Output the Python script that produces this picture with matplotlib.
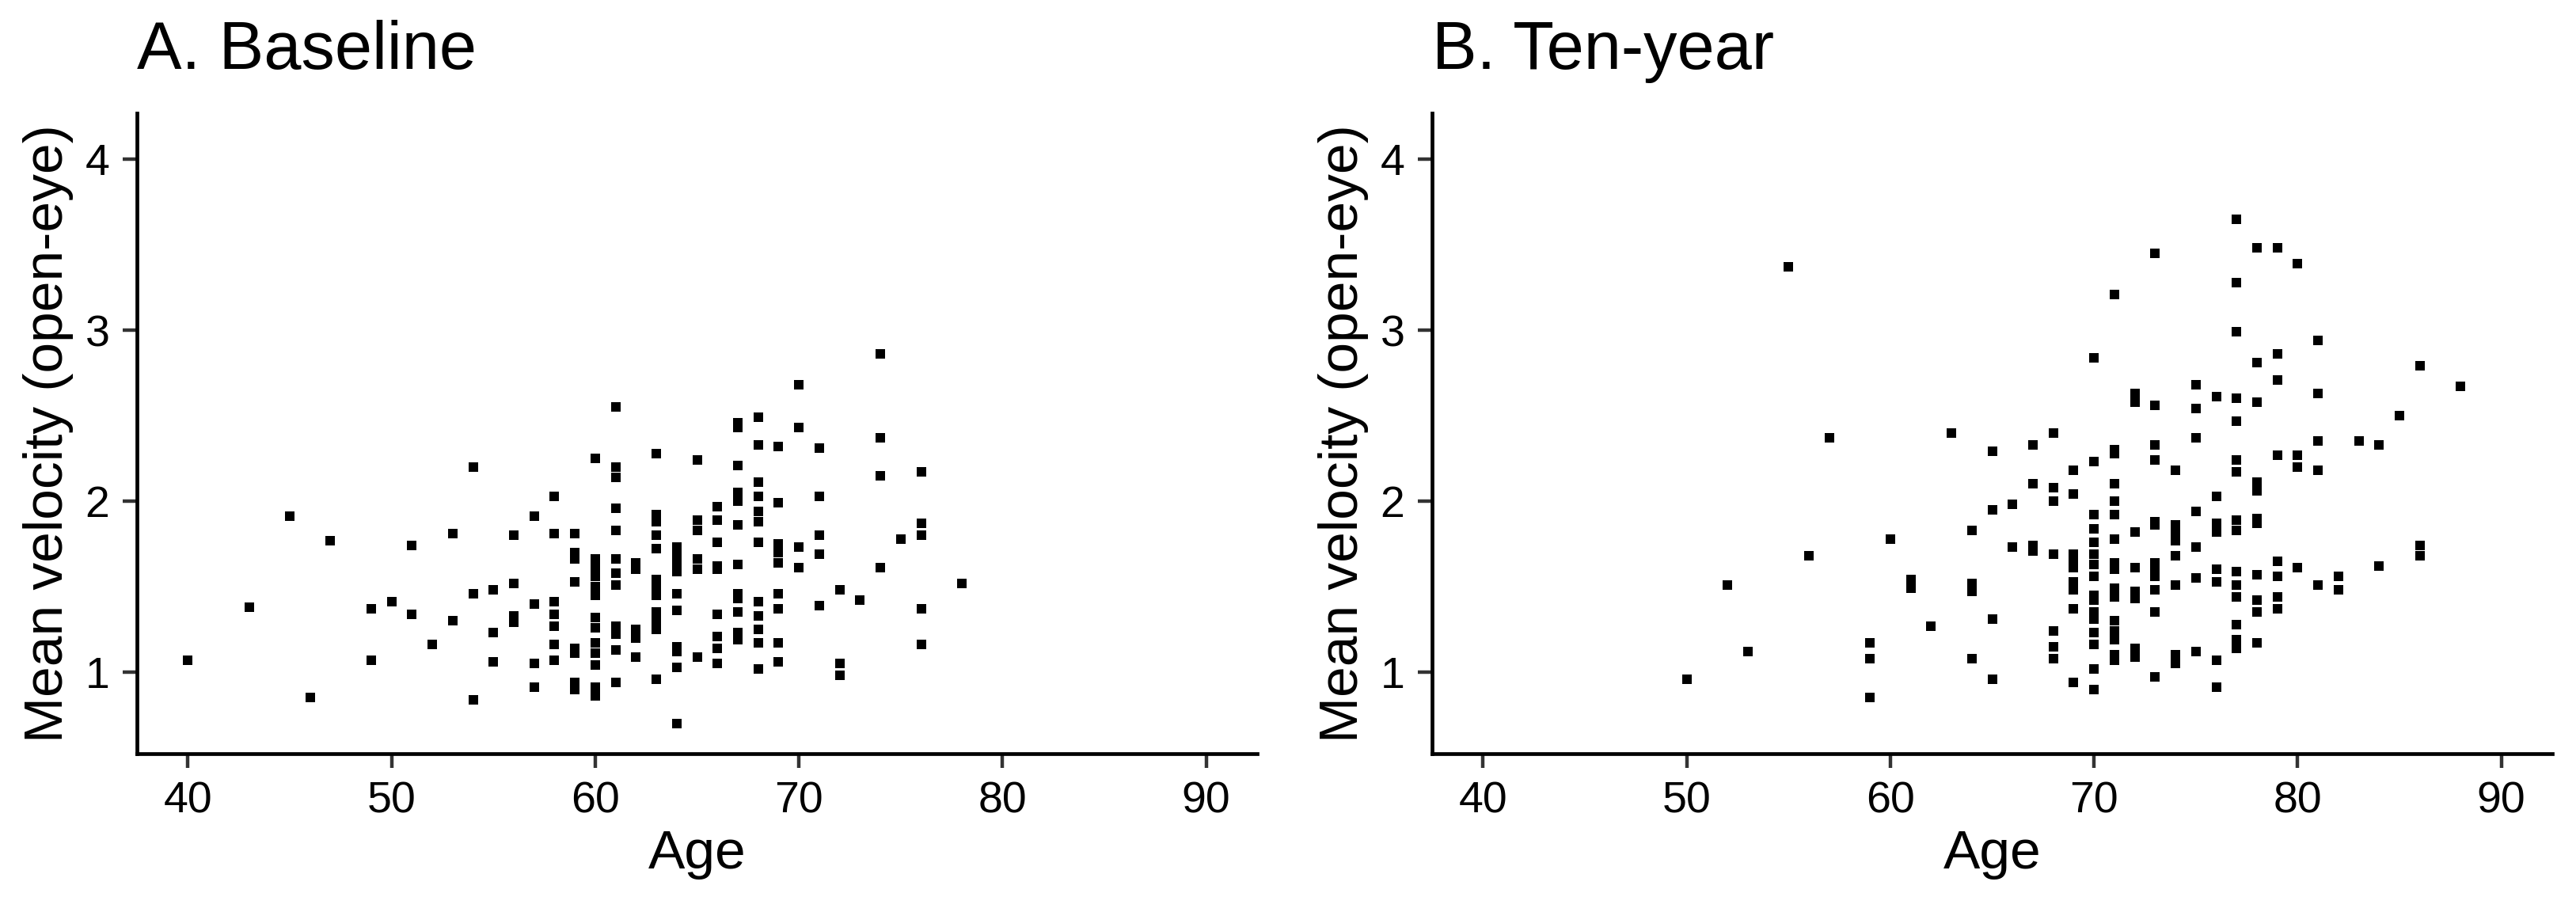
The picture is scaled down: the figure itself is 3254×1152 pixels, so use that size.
import matplotlib
matplotlib.use("Agg")
import matplotlib.pyplot as plt

plt.rcParams['font.family'] = ['Liberation Sans', 'DejaVu Sans']

# ---- data (age -> mean velocity values at that age) ----
baseline_ages = [40, 43, 45, 46, 47, 49, 50, 51, 52, 53, 54, 55, 56, 57, 58, 59, 60,
                 61, 62, 63, 64, 65, 66, 67, 68, 69, 70, 71, 72, 73, 74, 75, 76, 78]
baseline_values = [
    [1.07], [1.38], [1.91], [0.85], [1.77], [1.37, 1.07], [1.41], [1.74, 1.34],
    [1.16], [1.81, 1.30], [2.20, 1.46, 0.84], [1.48, 1.23, 1.06],
    [1.80, 1.52, 1.33, 1.29], [1.91, 1.40, 1.05, 0.91],
    [2.03, 1.81, 1.41, 1.34, 1.27, 1.16, 1.07],
    [1.81, 1.70, 1.66, 1.53, 1.14, 1.11, 0.94, 0.90],
    [2.25, 1.66, 1.61, 1.56, 1.50, 1.45, 1.32, 1.26, 1.17, 1.11, 1.04, 0.91, 0.86],
    [2.55, 2.20, 2.14, 1.96, 1.83, 1.66, 1.58, 1.51, 1.27, 1.22, 1.13, 0.94],
    [1.64, 1.60, 1.25, 1.20, 1.09],
    [2.28, 1.92, 1.88, 1.80, 1.72, 1.54, 1.49, 1.45, 1.35, 1.30, 1.25, 0.96],
    [1.73, 1.68, 1.64, 1.59, 1.46, 1.36, 1.15, 1.12, 1.03, 0.70],
    [2.24, 1.89, 1.83, 1.66, 1.60, 1.09],
    [1.97, 1.89, 1.76, 1.62, 1.60, 1.34, 1.21, 1.14, 1.05],
    [2.46, 2.43, 2.21, 2.05, 2.00, 1.86, 1.63, 1.46, 1.43, 1.35, 1.23, 1.19],
    [2.49, 2.33, 2.11, 2.03, 1.94, 1.88, 1.76, 1.41, 1.33, 1.25, 1.17, 1.02],
    [2.32, 1.99, 1.75, 1.70, 1.64, 1.46, 1.37, 1.17, 1.06],
    [2.68, 2.43, 1.73, 1.61],
    [2.31, 2.03, 1.80, 1.69, 1.39],
    [1.48, 1.05, 0.98],
    [1.42],
    [2.86, 2.37, 2.15, 1.61],
    [1.78],
    [2.17, 1.87, 1.80, 1.37, 1.16],
    [1.52],
]

tenyear_ages = [50, 52, 53, 55, 56, 57, 59, 60, 61, 62, 63, 64, 65, 66, 67, 68, 69, 70,
                71, 72, 73, 74, 75, 76, 77, 78, 79, 80, 81, 82, 83, 84, 85, 86, 88]
tenyear_values = [
    [0.96], [1.51], [1.12], [3.37], [1.68], [2.37], [1.17, 1.08, 0.85], [1.78],
    [1.54, 1.49], [1.27], [2.40], [1.83, 1.52, 1.47, 1.08],
    [2.29, 1.95, 1.31, 0.96], [1.98, 1.73], [2.33, 2.10, 1.74, 1.71],
    [2.40, 2.08, 2.00, 1.69, 1.24, 1.15, 1.08],
    [2.18, 2.04, 1.69, 1.65, 1.61, 1.53, 1.48, 1.37, 0.94],
    [2.84, 2.23, 1.92, 1.84, 1.76, 1.69, 1.63, 1.56, 1.45, 1.42, 1.35, 1.31, 1.23, 1.16, 1.02, 0.90],
    [3.21, 2.30, 2.28, 2.10, 2.00, 1.92, 1.78, 1.64, 1.60, 1.49, 1.44, 1.30, 1.24, 1.19, 1.10, 1.07],
    [2.63, 2.58, 1.82, 1.61, 1.47, 1.43, 1.14, 1.09],
    [3.45, 2.56, 2.33, 2.24, 1.88, 1.86, 1.64, 1.60, 1.56, 1.48, 1.35, 0.97],
    [2.18, 1.86, 1.82, 1.77, 1.68, 1.51, 1.10, 1.05],
    [2.68, 2.54, 2.37, 1.94, 1.73, 1.55, 1.12],
    [2.61, 2.03, 1.87, 1.82, 1.60, 1.53, 1.07, 0.91],
    [3.65, 3.28, 2.99, 2.60, 2.47, 2.24, 2.17, 1.89, 1.83, 1.59, 1.51, 1.44, 1.28, 1.19, 1.14],
    [3.48, 2.81, 2.58, 2.11, 2.06, 1.90, 1.87, 1.57, 1.42, 1.35, 1.17],
    [3.48, 2.86, 2.71, 2.27, 1.65, 1.56, 1.44, 1.37],
    [3.39, 2.27, 2.20, 1.61],
    [2.94, 2.63, 2.35, 2.18, 1.51],
    [1.56, 1.48],
    [2.35],
    [2.33, 1.62],
    [2.50],
    [2.79, 1.74, 1.68],
    [2.67],
]

panel_titles = ["A. Baseline", "B. Ten-year"]
x_label = "Age"
y_label = "Mean velocity (open-eye)"
x_ticks = [40, 50, 60, 70, 80, 90]
y_ticks = [1, 2, 3, 4]


def expand(ages, values):
    xs, ys = [], []
    for a, vals in zip(ages, values):
        for v in vals:
            xs.append(a)
            ys.append(v)
    return xs, ys


W, H = 3255, 1152
fig = plt.figure(figsize=(W / 100, H / 100), dpi=100)

ax_left_px = [173, 1809]
ax_w_px = 1415
ax_top_px, ax_bot_px = 143, 952

datasets = [(baseline_ages, baseline_values), (tenyear_ages, tenyear_values)]

for i, (ages, values) in enumerate(datasets):
    ax = fig.add_axes([ax_left_px[i] / W, 1 - ax_bot_px / H, ax_w_px / W,
                       (ax_bot_px - ax_top_px) / H])
    xs, ys = expand(ages, values)
    ax.plot(xs, ys, linestyle='none', marker='s', markersize=9.0,
            markerfacecolor='black', markeredgewidth=0, color='black')
    ax.set_xlim(37.5, 92.5)
    ax.set_ylim(0.523, 4.269)
    ax.set_xticks(x_ticks)
    ax.set_yticks(y_ticks)
    for side in ['top', 'right']:
        ax.spines[side].set_visible(False)
    for side in ['left', 'bottom']:
        ax.spines[side].set_linewidth(3.4)
        ax.spines[side].set_color('black')
        ax.spines[side].set_capstyle('projecting')
    ax.tick_params(axis='both', which='major', length=13, width=3.2,
                   color='#333333', labelsize=40, labelcolor='black', pad=12)
    ax.set_xlabel(x_label, fontsize=50, color='black')
    ax.set_ylabel(y_label, fontsize=50, color='black')
    ax.xaxis.set_label_coords(0.5, -0.118)
    ax.yaxis.set_label_coords(-0.0565, 0.5)
    ax.set_title(panel_titles[i], loc='left', fontsize=61, pad=40, color='black')
    ax.patch.set_alpha(0)

fig.savefig("out.png", dpi=100, facecolor='white')
